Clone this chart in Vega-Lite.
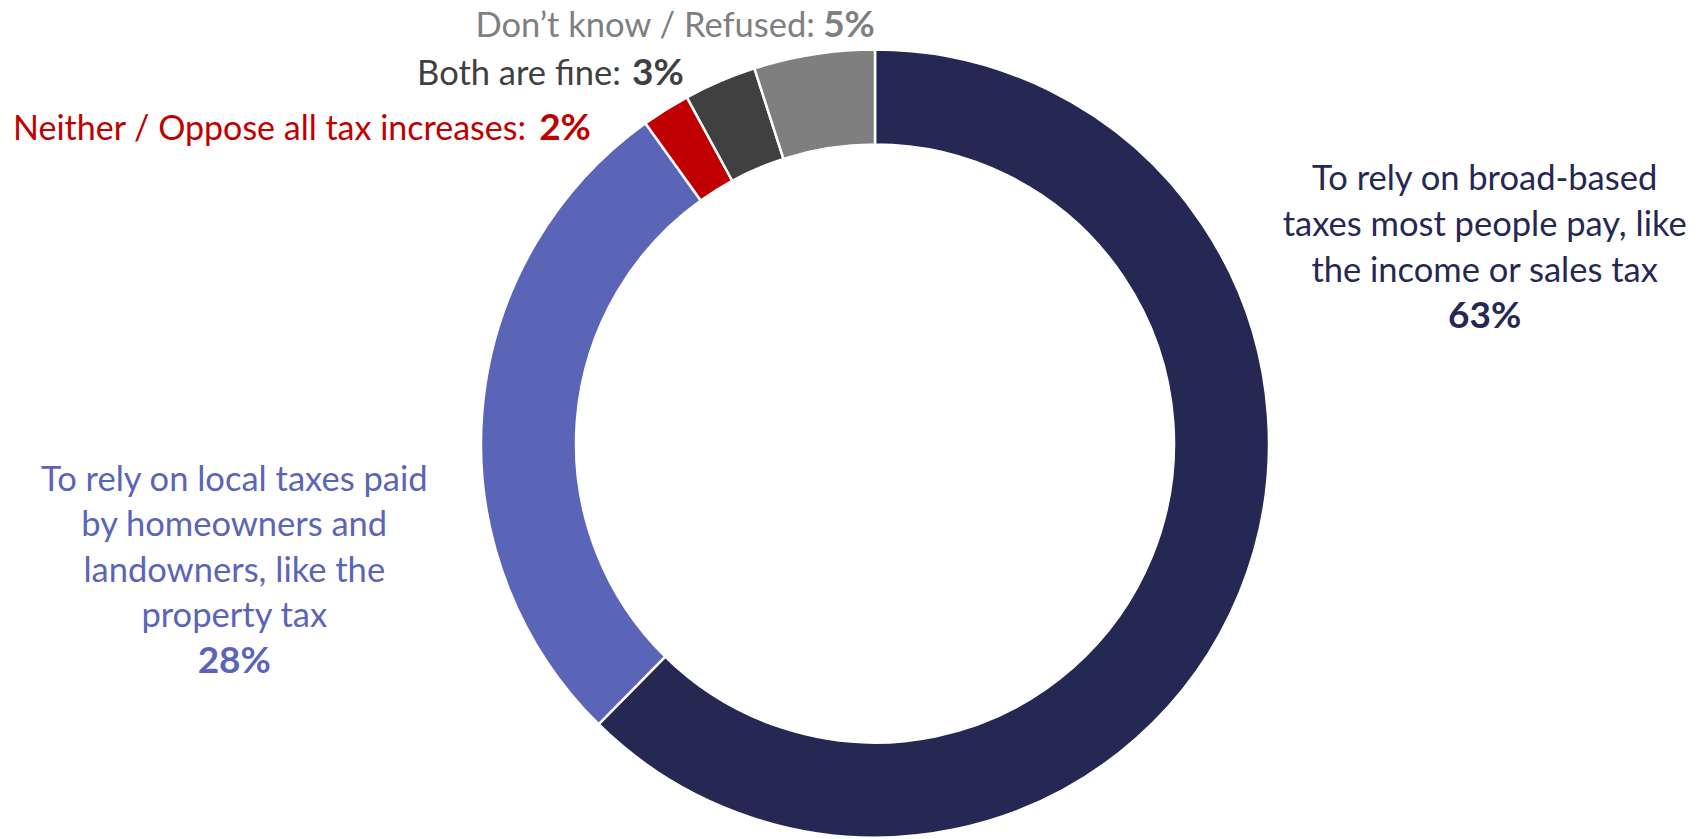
{
  "$schema": "https://vega.github.io/schema/vega-lite/v6.json",
  "width": 1662,
  "height": 791,
  "autosize": {"type": "none"},
  "padding": {"left": 44, "top": 48, "right": 0, "bottom": 0},
  "background": "white",
  "config": {"view": {"stroke": null}, "text": {"font": "Lato", "fontSize": 34.5}},
  "data": {
    "values": [
      {"key": "broad", "rank": 1, "value": 63, "label": "To rely on broad-based\ntaxes most people pay, like\nthe income or sales tax", "pct": "63%"},
      {"key": "local", "rank": 2, "value": 28, "label": "To rely on local taxes paid\nby homeowners and\nlandowners, like the\nproperty tax", "pct": "28%"},
      {"key": "neither", "rank": 3, "value": 2, "label": "Neither / Oppose all tax increases:", "pct": "2%"},
      {"key": "both", "rank": 4, "value": 3, "label": "Both are fine:", "pct": "3%"},
      {"key": "dk", "rank": 5, "value": 5, "label": "Don’t know / Refused:", "pct": "5%"}
    ]
  },
  "encoding": {
    "theta": {"field": "value", "type": "quantitative", "stack": true},
    "order": {"field": "rank", "type": "quantitative"},
    "color": {
      "field": "key",
      "type": "nominal",
      "scale": {
        "domain": ["broad", "local", "neither", "both", "dk"],
        "range": ["#262854", "#5B65B7", "#C00000", "#404040", "#7F7F7F"]
      },
      "legend": null
    }
  },
  "layer": [
    {"mark": {"type": "arc", "radius": 394, "radius2": 299, "stroke": "white", "strokeWidth": 2.5}},
    {"mark": {"type": "text", "radius": 420, "align": "center", "baseline": "alphabetic", "lineBreak": "\n", "lineHeight": 46, "dx": 221, "dy": -413},
     "encoding": {"text": {"condition": {"test": "datum.key === 'broad'", "field": "label", "type": "nominal"}, "value": ""}}},
    {"mark": {"type": "text", "radius": 420, "align": "center", "baseline": "alphabetic", "fontWeight": "bold", "fontSize": 37, "dx": 221, "dy": -275},
     "encoding": {"text": {"condition": {"test": "datum.key === 'broad'", "field": "pct", "type": "nominal"}, "value": ""}}},
    {"mark": {"type": "text", "radius": 420, "align": "center", "baseline": "alphabetic", "lineBreak": "\n", "lineHeight": 45.5, "dx": -222, "dy": 80},
     "encoding": {"text": {"condition": {"test": "datum.key === 'local'", "field": "label", "type": "nominal"}, "value": ""}}},
    {"mark": {"type": "text", "radius": 420, "align": "center", "baseline": "alphabetic", "fontWeight": "bold", "fontSize": 37, "dx": -222, "dy": 262},
     "encoding": {"text": {"condition": {"test": "datum.key === 'local'", "field": "pct", "type": "nominal"}, "value": ""}}},
    {"mark": {"type": "text", "radius": 420, "align": "right", "baseline": "alphabetic", "fontSize": 34, "dx": -126, "dy": 52},
     "encoding": {"text": {"condition": {"test": "datum.key === 'neither'", "field": "label", "type": "nominal"}, "value": ""}}},
    {"mark": {"type": "text", "radius": 420, "align": "right", "baseline": "alphabetic", "fontWeight": "bold", "fontSize": 37, "dx": -61, "dy": 52},
     "encoding": {"text": {"condition": {"test": "datum.key === 'neither'", "field": "pct", "type": "nominal"}, "value": ""}}},
    {"mark": {"type": "text", "radius": 420, "align": "right", "baseline": "alphabetic", "dx": -89, "dy": 28},
     "encoding": {"text": {"condition": {"test": "datum.key === 'both'", "field": "label", "type": "nominal"}, "value": ""}}},
    {"mark": {"type": "text", "radius": 420, "align": "right", "baseline": "alphabetic", "fontWeight": "bold", "fontSize": 37, "dx": -26, "dy": 28},
     "encoding": {"text": {"condition": {"test": "datum.key === 'both'", "field": "pct", "type": "nominal"}, "value": ""}}},
    {"mark": {"type": "text", "radius": 420, "align": "right", "baseline": "alphabetic", "dx": 5, "dy": 8},
     "encoding": {"text": {"condition": {"test": "datum.key === 'dk'", "field": "label", "type": "nominal"}, "value": ""}}},
    {"mark": {"type": "text", "radius": 420, "align": "right", "baseline": "alphabetic", "fontWeight": "bold", "fontSize": 37, "dx": 65, "dy": 8},
     "encoding": {"text": {"condition": {"test": "datum.key === 'dk'", "field": "pct", "type": "nominal"}, "value": ""}}}
  ]
}
